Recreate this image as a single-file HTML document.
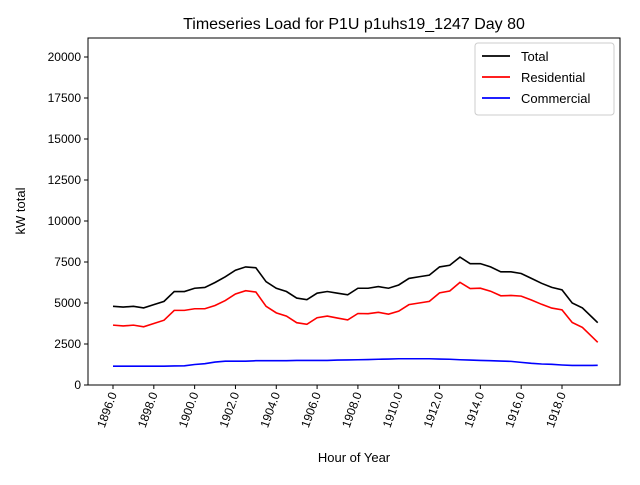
<!DOCTYPE html>
<html><head><meta charset="utf-8"><style>
body{margin:0;background:#fff;font-family:"Liberation Sans","DejaVu Sans",sans-serif}
</style></head><body>
<svg id="c" width="640" height="480" xmlns="http://www.w3.org/2000/svg"></svg>
<script>
const hours=[1896,1896.5,1897,1897.5,1898,1898.5,1899,1899.5,1900,1900.5,1901,1901.5,1902,1902.5,1903,1903.5,1904,1904.5,1905,1905.5,1906,1906.5,1907,1907.5,1908,1908.5,1909,1909.5,1910,1910.5,1911,1911.5,1912,1912.5,1913,1913.5,1914,1914.5,1915,1915.5,1916,1916.5,1917,1917.5,1918,1918.5,1919,1919.5,1919.75];
const total=[4800,4750,4800,4700,4900,5100,5700,5700,5900,5950,6250,6600,7000,7200,7150,6300,5900,5700,5300,5200,5600,5700,5600,5500,5900,5900,6000,5900,6100,6500,6600,6700,7200,7300,7800,7400,7400,7200,6900,6900,6800,6500,6200,5950,5800,5000,4700,4100,3800];
const residential=[3650,3600,3650,3550,3750,3950,4550,4550,4650,4650,4850,5150,5550,5750,5670,4800,4400,4200,3800,3700,4100,4200,4080,3970,4360,4350,4430,4320,4500,4900,5000,5100,5620,5730,6260,5880,5900,5720,5440,5460,5420,5180,4920,4690,4580,3810,3510,2910,2600];
const commercial=[1150,1150,1150,1150,1150,1150,1160,1170,1250,1300,1400,1450,1450,1450,1480,1480,1480,1480,1500,1500,1500,1500,1520,1530,1540,1550,1570,1580,1600,1600,1600,1600,1580,1570,1540,1520,1500,1480,1460,1440,1380,1320,1280,1260,1220,1190,1190,1190,1200];
const xTicks=[1896,1898,1900,1902,1904,1906,1908,1910,1912,1914,1916,1918];
const yTicks=[0,2500,5000,7500,10000,12500,15000,17500,20000];
const NS="http://www.w3.org/2000/svg",svg=document.getElementById('c');
const L=88,R=620,T=38,B=385;
const xs=h=>113+(h-1896)*(562-113)/22;
const ys=v=>385-v*(385-57)/20000;
function mk(t,a,p){const e=document.createElementNS(NS,t);for(const k in a)e.setAttribute(k,a[k]);(p||svg).appendChild(e);return e;}
const frame=mk('rect',{x:L,y:T,width:R-L,height:B-T,fill:'none',stroke:'#000','stroke-width':1});


xTicks.forEach(h=>{const x=xs(h);
mk('line',{x1:x,x2:x,y1:B,y2:B+4,stroke:'#000'});
const t=mk('text',{x:0,y:0,'font-size':12,'text-anchor':'end',transform:`translate(${x+4},${B+9}) rotate(-70)`});
t.textContent=h.toFixed(1);

});
yTicks.forEach(v=>{const y=ys(v);
mk('line',{x1:L-4,x2:L,y1:y,y2:y,stroke:'#000'});
const t=mk('text',{x:L-7,y:y+4,'font-size':12,'text-anchor':'end'});
t.textContent=v;

});
const series=[[total,'#000','total-line'],[residential,'#f00','residential-line'],[commercial,'#00f','commercial-line']];
series.forEach(([d,c,n])=>{const p=mk('polyline',{points:d.map((v,i)=>xs(hours[i])+','+ys(v)).join(' '),fill:'none',stroke:c,'stroke-width':1.6});

});
const title=mk('text',{x:354,y:29,'font-size':16,'text-anchor':'middle'});title.textContent='Timeseries Load for P1U p1uhs19_1247  Day 80';


const xl=mk('text',{x:354,y:462,'font-size':13,'text-anchor':'middle'});xl.textContent='Hour of Year';


const yl=mk('text',{x:0,y:0,'font-size':13,'text-anchor':'middle',transform:'translate(25,211) rotate(-90)'});yl.textContent='kW total';


const lg=mk('g',{});


mk('rect',{x:475,y:43,width:139,height:72,rx:3,fill:'#fff',stroke:'#ccc'},lg);
[['Total','#000'],['Residential','#f00'],['Commercial','#00f']].forEach(([n,c],i)=>{const y=56+i*21;
mk('line',{x1:482,x2:510,y1:y,y2:y,stroke:c,'stroke-width':1.8},lg);
const t=mk('text',{x:521,y:y+5,'font-size':13},lg);t.textContent=n;

});
</script>
</body></html>
